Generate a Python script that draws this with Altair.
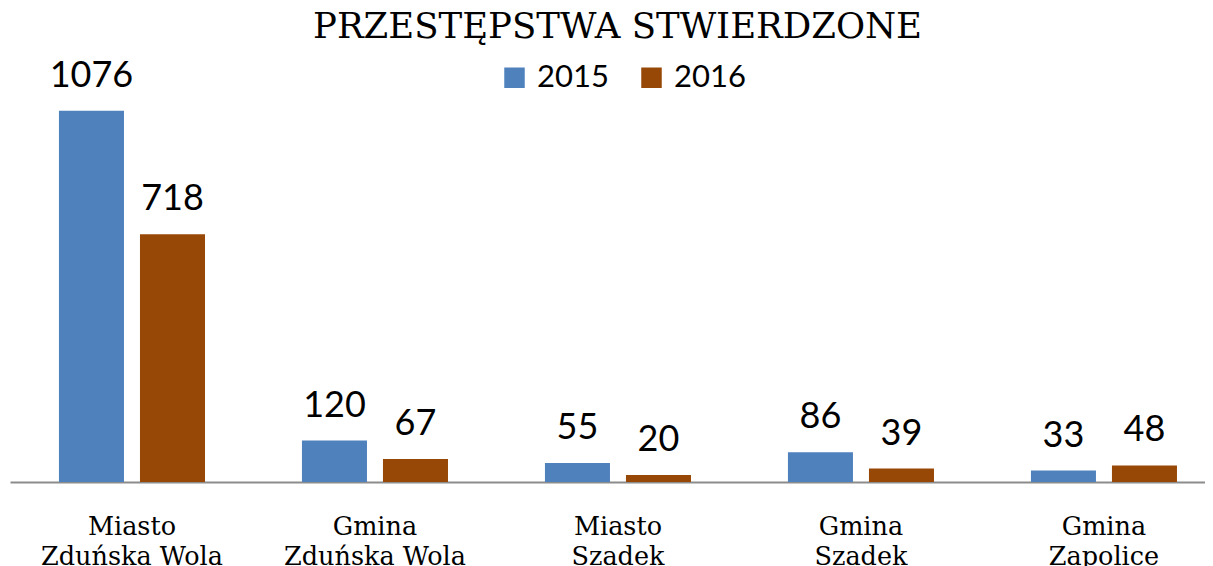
import altair as alt
import pandas as pd

categories = ["Miasto|Zduńska Wola", "Gmina|Zduńska Wola", "Miasto|Szadek", "Gmina|Szadek", "Gmina|Zapolice"]
years = ["2015", "2016"]
v2015 = [1076, 120, 55, 86, 33]
v2016 = [718, 67, 20, 39, 48]
colors = ["#4F81BD", "#974806"]

rows = []
for c, a, b in zip(categories, v2015, v2016):
    rows.append({"Kategoria": c, "Rok": years[0], "Wartosc": a})
    rows.append({"Kategoria": c, "Rok": years[1], "Wartosc": b})
df = pd.DataFrame(rows)

base = alt.Chart(df).encode(
    x=alt.X("Kategoria:N", sort=categories,
            scale=alt.Scale(paddingInner=0.399, paddingOuter=0.1584, align=0.636),
            axis=alt.Axis(title=None, labelExpr="split(datum.label, '|')", labelAngle=0,
                          labelFont="DejaVu Serif", labelFontSize=25.5, labelColor="black",
                          labelLineHeight=30, labelPadding=32, labelBaseline="top",
                          labelLimit=500, labelOverlap=False,
                          ticks=False, domainColor="#8c8c8c", domainWidth=2)),
    xOffset=alt.XOffset("Rok:N", scale=alt.Scale(paddingInner=0.1975, paddingOuter=0)),
    y=alt.Y("Wartosc:Q", scale=alt.Scale(domain=[0, 1200]), axis=None),
)

bars = base.mark_bar().encode(
    color=alt.Color("Rok:N", scale=alt.Scale(domain=years, range=colors),
                    legend=alt.Legend(title=None, orient="none", direction="horizontal",
                                      legendX=489, legendY=-6, padding=0, symbolType="square",
                                      symbolSize=420, symbolStrokeWidth=0,
                                      labelFont="Lato", labelFontSize=31, labelColor="black",
                                      labelOffset=7, columnPadding=27))
)

labels = base.mark_text(font="Lato", fontSize=36, color="black", baseline="alphabetic", dy=-24).encode(
    text=alt.Text("Wartosc:Q")
)

chart = (bars + labels).properties(
    width=1195, height=414,
    title=alt.TitleParams("PRZESTĘPSTWA STWIERDZONE", font="DejaVu Serif", fontSize=35.5,
                          fontWeight="normal", color="black", anchor="middle", dx=10, dy=-8),
    autosize=alt.AutoSizeParams(type="none"),
    padding={"left": 2, "top": 60, "right": 0, "bottom": 96},
).configure_view(stroke=None)

chart.save("out.html", embed_options={"renderer": "svg", "actions": False})
